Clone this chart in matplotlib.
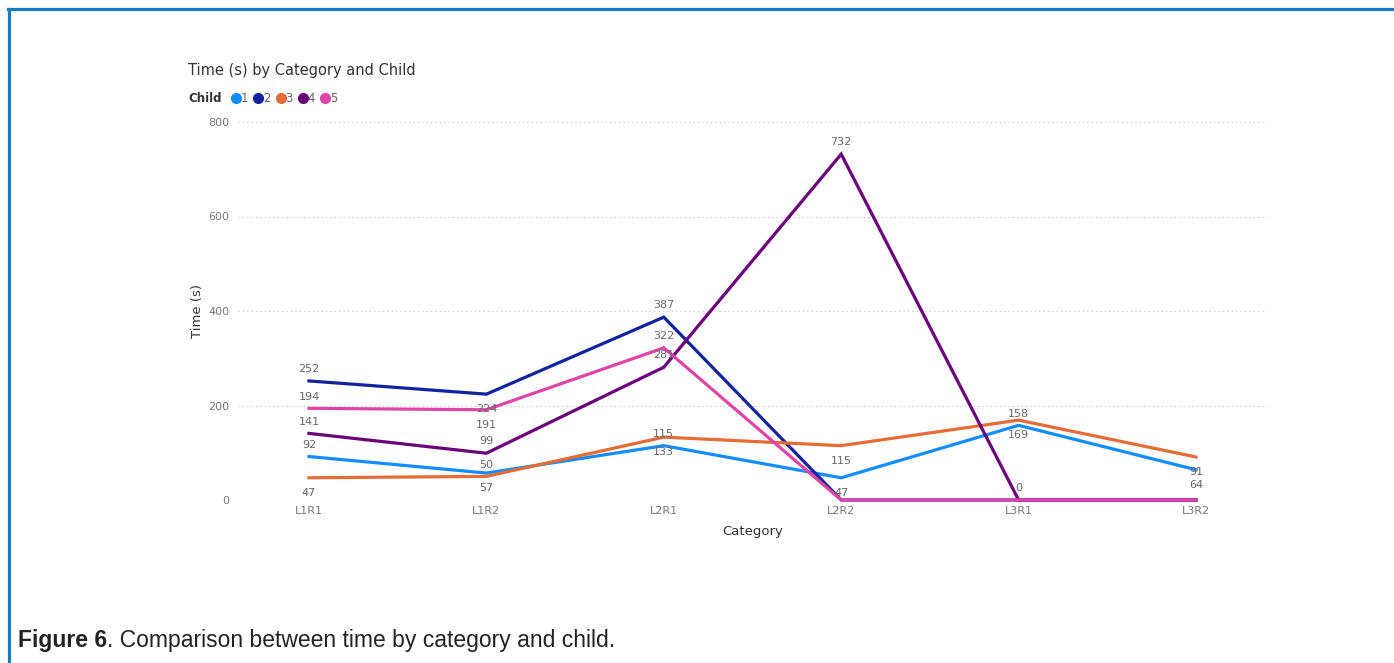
import numpy as np
import matplotlib
matplotlib.use("Agg")
import matplotlib.pyplot as plt
from matplotlib.lines import Line2D

# data
categories = ["L1R1", "L1R2", "L2R1", "L2R2", "L3R1", "L3R2"]
children = ["1", "2", "3", "4", "5"]
child1 = [92, 57, 115, 47, 158, 64]
child2 = [252, 224, 387, 0, 0, 0]
child3 = [47, 50, 133, 115, 169, 91]
child4 = [141, 99, 281, 732, 0, 0]
child5 = [194, 191, 322, 0, 0, 0]
y_ticks = [0, 200, 400, 600, 800]

series = [child1, child2, child3, child4, child5]
colors = ["#118DFF", "#12239E", "#E66C37", "#6B007B", "#E044A7"]
# where Power BI put each data label: a = above, b = below, None = hidden
label_pos = [
    ["a", "b", "a", "b", "a", "b"],
    ["a", "b", "a", None, None, None],
    ["b", "a", "b", "b", "b", "b"],
    ["a", "a", "a", "a", "a", None],
    ["a", "b", "a", None, None, None],
]

W, H = 1394, 663
fig = plt.figure(figsize=(W / 100, H / 100), dpi=100)
fig.patch.set_facecolor("white")

ax = fig.add_axes([238 / W, 1 - 500 / H, (1267 - 238) / W, (500 - 122) / H])
x = np.arange(len(categories))

for vals, col in zip(series, colors):
    ax.plot(x, vals, color=col, lw=2.3, solid_joinstyle="miter", clip_on=False, zorder=3)

for vals, col, pos in zip(series, colors, label_pos):
    for i, v in enumerate(vals):
        if pos[i] is None:
            continue
        dy = 8.5 if pos[i] == "a" else -11
        ax.annotate(str(v), (x[i], v), xytext=(0, dy), textcoords="offset points",
                    ha="center", va="center", fontsize=8, color="#666666", zorder=4)

ax.set_xlim(-0.4, 5.4)
ax.set_ylim(0, 800)
ax.set_xticks(x)
ax.set_xticklabels(categories)
ax.set_yticks(y_ticks)
ax.tick_params(axis="both", length=0, labelsize=8, labelcolor="#777777")
ax.tick_params(axis="y", pad=6)
ax.tick_params(axis="x", pad=4)
for s in ax.spines.values():
    s.set_visible(False)
ax.grid(axis="y", linestyle=(0, (1, 2.5)), color="#c8c8c8", lw=0.9)
ax.set_axisbelow(True)
ax.set_xlabel("Category", fontsize=9.5, color="#333333", labelpad=7)
ax.set_ylabel("Time (s)", fontsize=9.5, color="#333333", labelpad=3)

# title and legend, Power BI style
fig.text(188 / W, 1 - 70 / H, "Time (s) by Category and Child", fontsize=10.5,
         color="#333333", va="center", ha="left")
fig.text(188 / W, 1 - 99 / H, "Child", fontsize=8.5, fontweight="bold",
         color="#333333", va="center", ha="left")
handles = [Line2D([], [], marker="o", ls="", color=c, markersize=7) for c in colors]
fig.legend(handles, children, loc="center left", bbox_to_anchor=(232 / W, 1 - 99 / H),
           ncol=5, frameon=False, handlelength=0.7, handletextpad=0.05,
           columnspacing=0.5, fontsize=8.5, labelcolor="#666666", borderpad=0,
           borderaxespad=0)

# blue frame lines (top and left)
fig.add_artist(Line2D([8 / W, 1], [1 - 8.5 / H, 1 - 8.5 / H], color="#137cc0", lw=2.3,
                      transform=fig.transFigure))
fig.add_artist(Line2D([9 / W, 9 / W], [0, 1 - 8.5 / H], color="#137cc0", lw=2.3,
                      transform=fig.transFigure))

# caption: bold "Figure 6" then the rest
cap_y = 1 - 641 / H
t1 = fig.text(18 / W, cap_y, "Figure 6", fontsize=16.5, fontweight="bold",
              family="Liberation Sans", color="#222222", va="center", ha="left")
fig.canvas.draw()
bb = t1.get_window_extent()
fig.text(bb.x1 / W, cap_y, ". Comparison between time by category and child.", fontsize=16.5,
         family="Liberation Sans", color="#222222", va="center", ha="left")

fig.savefig("out.png", dpi=100)
